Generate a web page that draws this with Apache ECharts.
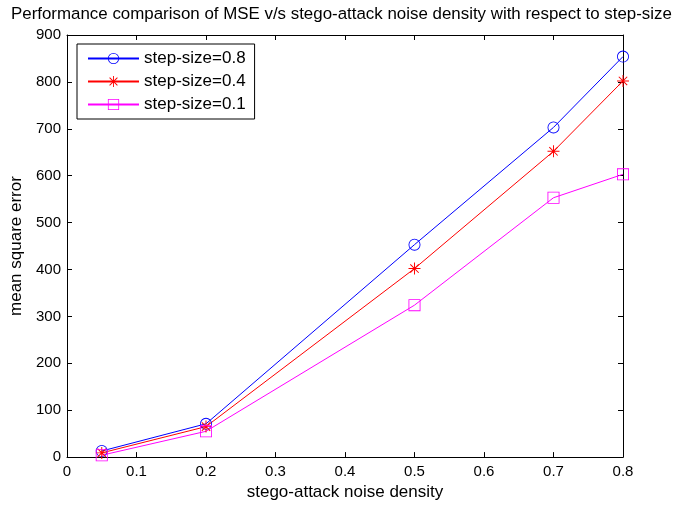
<!DOCTYPE html>
<html><head><meta charset="utf-8">
<script src="https://cdn.jsdelivr.net/npm/echarts@6/dist/echarts.min.js"></script>
<style>html,body{margin:0;padding:0;background:#fff}#c{width:673px;height:506px}</style>
</head><body><div id="c"></div>
<script>
const xValues = [0.05, 0.2, 0.5, 0.7, 0.8];
const seriesNames = ['step-size=0.8', 'step-size=0.4', 'step-size=0.1'];
const mse08 = [13, 71, 453, 703, 854];
const mse04 = [9, 65, 402, 652, 802];
const mse01 = [4, 55, 324, 553, 603];
const xTicks = [0, 0.1, 0.2, 0.3, 0.4, 0.5, 0.6, 0.7, 0.8];
const yTicks = [0, 100, 200, 300, 400, 500, 600, 700, 800, 900];

const ring = 'path://M0,-10 A10,10 0 1,1 0,10 A10,10 0 1,1 0,-10 Z M0,-8.6 A8.6,8.6 0 1,0 0,8.6 A8.6,8.6 0 1,0 0,-8.6 Z';
const sq = 'path://M-10,-10 L10,-10 L10,10 L-10,10 Z M-8.6,-8.6 L-8.6,8.6 L8.6,8.6 L8.6,-8.6 Z';
const star = 'path://M-0.8,-10 L0.8,-10 L0.8,10 L-0.8,10 Z M-10,-0.8 L10,-0.8 L10,0.8 L-10,0.8 Z M-7.6,-6.4 L-6.4,-7.6 L7.6,6.4 L6.4,7.6 Z M6.4,-7.6 L7.6,-6.4 L-6.4,7.6 L-7.6,6.4 Z';

const font = 'Liberation Sans, Arial, sans-serif';
const mk = (name, vals, color, symbol, size) => ({
  name, type: 'line', data: xValues.map((x, i) => [x, vals[i]]),
  symbol, symbolSize: size, showAllSymbol: true,
  lineStyle: { color, width: 1 }, itemStyle: { color },
  emphasis: { disabled: true }, animation: false
});
const axisBase = {
  axisLine: { show: true, onZero: false, lineStyle: { color: '#000', width: 1 } },
  axisTick: { show: true, inside: true, length: 5, lineStyle: { color: '#000' } },
  splitLine: { show: false }
};
const chart = echarts.init(document.getElementById('c'), null, { renderer: 'canvas' });
chart.setOption({
  backgroundColor: '#fff',
  animation: false,
  title: { text: 'Performance comparison of MSE v/s stego-attack noise density with respect to step-size',
    left: 11, top: 6, padding: [0, 0, 0, 0], textStyle: { fontFamily: font, fontSize: 16.9, fontWeight: 'normal', color: '#000' } },
  grid: { left: 67, right: 50, top: 35, bottom: 45 },
  legend: {
    data: seriesNames, orient: 'vertical', left: 77, top: 44,
    backgroundColor: '#fff', borderColor: '#000', borderWidth: 1,
    padding: [6, 9, 6, 10], itemWidth: 51, itemHeight: 14, itemGap: 6,
    textStyle: { fontFamily: font, fontSize: 17, color: '#000' }
  },
  xAxis: [
    Object.assign({ type: 'value', min: 0, max: 0.8, interval: 0.1, position: 'bottom',
      name: 'stego-attack noise density', nameLocation: 'middle', nameGap: 24,
      nameTextStyle: { fontFamily: font, fontSize: 17, color: '#000' },
      axisLabel: { fontFamily: font, fontSize: 15, color: '#000', margin: 7,
        formatter: v => { const t = xTicks.find(a => Math.abs(a - v) < 1e-9); return t === undefined ? '' : String(t); } } }, axisBase),
    Object.assign({ type: 'value', min: 0, max: 0.8, interval: 0.1, position: 'top', axisLabel: { show: false } }, axisBase)
  ],
  yAxis: [
    Object.assign({ type: 'value', min: 0, max: 900, interval: 100, position: 'left',
      name: 'mean square error', nameLocation: 'middle', nameGap: 42,
      nameTextStyle: { fontFamily: font, fontSize: 17, color: '#000' },
      axisLabel: { fontFamily: font, fontSize: 15, color: '#000', margin: 6,
        formatter: v => { const t = yTicks.find(a => a === v); return t === undefined ? '' : String(t); } } }, axisBase),
    Object.assign({ type: 'value', min: 0, max: 900, interval: 100, position: 'right', axisLabel: { show: false } }, axisBase)
  ],
  series: [
    mk(seriesNames[0], mse08, '#0000ff', ring, 12),
    mk(seriesNames[1], mse04, '#ff0000', star, 12),
    mk(seriesNames[2], mse01, '#ff00ff', sq, 12)
  ]
});
</script></body></html>
